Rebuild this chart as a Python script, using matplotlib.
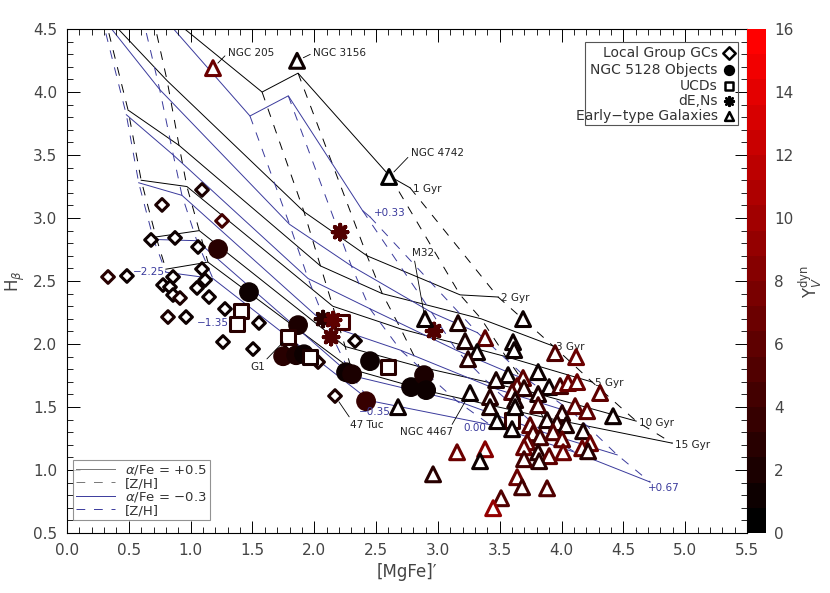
import numpy as np
import matplotlib
matplotlib.use('Agg')
import matplotlib.pyplot as plt
from matplotlib.colors import LinearSegmentedColormap, Normalize
from matplotlib.lines import Line2D
from matplotlib.patches import Rectangle
import matplotlib.cm as cm

plt.rcParams['font.family'] = ['DejaVu Sans']

# model grid: rows = ages, columns = [Z/H]
ages = ['1 Gyr', '2 Gyr', '3 Gyr', '5 Gyr', '10 Gyr', '15 Gyr']
zh = ['-2.25', '-1.35', '-0.35', '0.00', '+0.33', '+0.67']

mgfe_hi = np.array([
    [0.40, 0.665, 1.578, 1.869, 2.613, 2.775],
    [0.30, 0.81, 1.917, 2.427, 3.18, 3.487],
    [0.494, 0.906, 2.05, 2.55, 3.35, 3.932],
    [0.60, 0.97, 2.15, 2.70, 3.55, 4.248],
    [0.72, 1.07, 2.25, 2.85, 3.75, 4.604],
    [0.80, 1.14, 2.30, 2.95, 3.85, 4.896]])
hb_hi = np.array([
    [5.20, 4.73, 4.00, 4.15, 3.33, 3.24],
    [4.62, 4.09, 3.05, 2.70, 2.39, 2.373],
    [3.857, 3.577, 2.62, 2.40, 2.20, 1.984],
    [3.30, 3.25, 2.30, 2.12, 1.90, 1.698],
    [2.85, 2.90, 1.98, 1.82, 1.62, 1.388],
    [2.594, 2.65, 1.80, 1.62, 1.42, 1.213]])

mgfe_lo = np.array([
    [0.35, 0.55, 1.48, 1.79, 2.39, 2.45],
    [0.28, 0.75, 1.80, 2.30, 2.95, 3.32],
    [0.48, 0.86, 1.95, 2.45, 3.15, 3.75],
    [0.58, 0.93, 2.10, 2.70, 3.45, 4.10],
    [0.70, 1.05, 2.30, 3.15, 3.85, 4.45],
    [0.80, 1.18, 2.45, 3.42, 4.11, 4.717]])
hb_lo = np.array([
    [5.40, 4.85, 3.81, 3.97, 3.06, 3.01],
    [4.60, 4.02, 2.95, 2.62, 2.25, 2.09],
    [3.82, 3.50, 2.52, 2.28, 1.95, 1.70],
    [3.28, 3.18, 2.15, 1.95, 1.65, 1.45],
    [2.83, 2.82, 1.75, 1.55, 1.30, 1.12],
    [2.57, 2.52, 1.55, 1.36, 1.14, 0.904]])

# Local Group GCs
gc_x = [0.332, 0.485, 0.769, 1.254, 0.680, 0.874, 1.060, 1.092, 1.092, 0.858, 0.777,
        0.833, 0.858, 0.914, 1.052, 1.117, 1.149, 1.278, 0.817, 0.963, 1.262, 1.553,
        1.505, 1.804, 2.031, 2.330, 2.168]
gc_y = [2.532, 2.540, 3.104, 2.977, 2.826, 2.842, 2.770, 3.223, 2.595, 2.532, 2.468,
        2.452, 2.389, 2.365, 2.445, 2.508, 2.373, 2.278, 2.214, 2.214, 2.016, 2.167,
        1.960, 1.992, 1.857, 2.024, 1.587]
gc_m = [2.5, 1.5, 2.0, 4.5, 1.5, 1.0, 1.5, 2.0, 1.5, 1.5, 1.0, 1.0, 1.5, 2.0, 1.0, 1.5,
        1.0, 1.0, 2.0, 1.5, 1.0, 1.5, 1.0, 1.5, 2.0, 1.5, 2.0]

# NGC 5128 objects
cen_x = [1.222, 1.472, 1.869, 1.748, 1.853, 1.917, 2.257, 2.306, 2.451, 2.419, 2.783, 2.888, 2.905]
cen_y = [2.754, 2.412, 2.150, 1.903, 1.911, 1.919, 1.776, 1.760, 1.864, 1.546, 1.658, 1.753, 1.634]
cen_m = [2.5, 1.5, 2.0, 2.5, 2.0, 1.5, 1.5, 2.0, 1.0, 3.5, 1.5, 2.0, 1.0]

# UCDs
ucd_x = [1.408, 1.375, 1.788, 1.966, 2.225, 2.597, 3.600]
ucd_y = [2.262, 2.158, 2.055, 1.896, 2.174, 1.817, 1.395]
ucd_m = [3.0, 2.5, 2.5, 2.0, 4.5, 3.0, 3.5]

# dE,Ns
de_x = [2.209, 2.071, 2.152, 2.136, 2.969]
de_y = [2.888, 2.198, 2.190, 2.055, 2.103]
de_m = [5.0, 3.0, 6.0, 5.5, 5.0]

# early-type galaxies
etg_x = [1.181, 1.861, 2.605, 2.896, 3.163, 3.689, 3.220, 3.382, 3.608, 3.617, 3.317, 3.244,
         3.948, 4.118, 3.811, 3.568, 3.471, 3.689, 3.641, 3.697, 3.900, 3.989, 4.053, 4.126,
         4.312, 3.260, 3.422, 3.600, 3.625, 3.811, 3.811, 3.422, 3.625, 4.110, 4.207, 4.417,
         4.005, 3.883, 3.479, 3.600, 3.746, 3.964, 4.037, 4.175, 3.770, 3.827, 3.932, 4.005,
         3.722, 4.231, 4.167, 4.215, 3.697, 3.155, 3.382, 3.341, 3.811, 3.900, 4.013, 3.819,
         3.697, 2.961, 3.641, 3.681, 3.883, 3.511, 3.447, 2.678]
etg_y = [4.190, 4.248, 3.326, 2.198, 2.166, 2.198, 2.023, 2.047, 2.015, 1.952, 1.936, 1.880,
         1.928, 1.896, 1.777, 1.753, 1.714, 1.730, 1.666, 1.650, 1.658, 1.666, 1.690, 1.698,
         1.611, 1.611, 1.579, 1.619, 1.555, 1.603, 1.515, 1.499, 1.499, 1.507, 1.467, 1.427,
         1.451, 1.396, 1.388, 1.324, 1.356, 1.372, 1.356, 1.308, 1.292, 1.260, 1.300, 1.244,
         1.221, 1.213, 1.173, 1.149, 1.181, 1.141, 1.165, 1.070, 1.141, 1.110, 1.141, 1.070,
         1.086, 0.966, 0.943, 0.863, 0.855, 0.776, 0.697, 1.499]
etg_m = [6.5, 1.0, 0.5, 1.5, 2.0, 1.0, 2.0, 6.0, 1.5, 1.0, 1.5, 3.0,
         5.0, 7.0, 1.0, 1.5, 2.0, 6.0, 6.0, 3.0, 1.5, 4.0, 7.0, 7.0,
         6.0, 1.0, 3.0, 5.0, 2.0, 2.0, 4.0, 2.0, 1.0, 6.0, 6.0, 1.5,
         3.0, 2.0, 1.0, 1.0, 6.0, 3.0, 2.0, 2.0, 5.0, 4.0, 5.0, 6.0,
         6.0, 7.0, 7.0, 3.0, 7.0, 7.0, 8.0, 1.0, 3.0, 6.0, 7.0, 3.0,
         4.0, 3.0, 7.0, 4.0, 5.0, 5.0, 9.0, 1.5]

blue = '#3a3a9c'
cmap = LinearSegmentedColormap.from_list('kr', ['black', 'red'], N=20)
norm = Normalize(0, 16)

fig = plt.figure(figsize=(8.3, 5.93), dpi=100)
ax = fig.add_axes([0.0807, 0.1012, 0.8193, 0.8498])
cax = fig.add_axes([0.9, 0.1012, 0.0229, 0.8498])

# model grids
for mg, hb, col in [(mgfe_hi, hb_hi, 'black'), (mgfe_lo, hb_lo, blue)]:
    for i in range(len(ages)):
        ax.plot(mg[i], hb[i], '-', color=col, lw=0.7, zorder=1)
    for j in range(len(zh)):
        ax.plot(mg[:, j], hb[:, j], color=col, lw=0.7, dashes=(9, 9), zorder=1)

for i, a in enumerate(ages):
    ax.annotate(a, (mgfe_hi[i, -1], hb_hi[i, -1]), xytext=(2, -1), textcoords='offset points',
                fontsize=7.5, ha='left', va='center', color='#222222')

# metallicity labels for the low alpha grid
zlab_x = [0.79, 1.31, 2.36, 3.39, 2.48, 4.70]
zlab_y = [2.57, 2.17, 1.46, 1.33, 3.04, 0.86]
zlab_ha = ['right', 'right', 'left', 'right', 'left', 'left']
for t, x, y, h in zip(zh, zlab_x, zlab_y, zlab_ha):
    ax.text(x, y, t.replace('-', '\u2212'), color=blue, fontsize=7.5, ha=h, va='center', zorder=4)

# data points
def cols(v):
    return cmap(norm(np.array(v)))

ax.scatter(gc_x, gc_y, marker='D', s=42, facecolors='white', edgecolors=cols(gc_m), linewidths=2.2, zorder=3)
ax.scatter(cen_x, cen_y, marker='o', s=175, c=cols(cen_m), edgecolors=cols(cen_m), zorder=3)
ax.scatter(ucd_x, ucd_y, marker='s', s=110, facecolors='white', edgecolors=cols(ucd_m), linewidths=2.2, zorder=3)
ax.scatter(de_x, de_y, marker=(8, 2, 0), s=110, c=cols(de_m), linewidths=3, zorder=3)
ax.scatter(etg_x, etg_y, marker='^', s=115, facecolors='white', edgecolors=cols(etg_m), linewidths=2.2, zorder=3)

# object names, with the corner of the label the leader line starts from
names = ['NGC 205', 'NGC 3156', 'NGC 4742', 'M32', 'NGC 4467', '47 Tuc', 'G1']
obj_xy = [(1.181, 4.19), (1.861, 4.248), (2.605, 3.326), (2.896, 2.198), (3.260, 1.611), (2.168, 1.587), (1.788, 2.055)]
txt_xy = [(1.30, 4.31), (1.99, 4.31), (2.78, 3.52), (2.79, 2.72), (2.69, 1.30), (2.29, 1.36), (1.48, 1.82)]
rel = [(0, 0.5), (0, 0.5), (0, 0.3), (0.1, 0), (0.95, 0.9), (0.05, 0.9), (0.9, 0.9)]
for n, o, t, r in zip(names, obj_xy, txt_xy, rel):
    ax.annotate(n, o, xytext=t, fontsize=7.5, color='#222222', ha='left', va='center',
                arrowprops=dict(arrowstyle='-', color='black', lw=0.6, shrinkA=0, shrinkB=5, relpos=r))

ax.set_xlim(0, 5.5)
ax.set_ylim(0.5, 4.5)
ax.set_xticks(np.arange(0, 5.51, 0.5))
ax.set_yticks(np.arange(0.5, 4.51, 0.5))
ax.set_xticks(np.arange(0, 5.51, 0.1), minor=True)
ax.set_yticks(np.arange(0.5, 4.51, 0.1), minor=True)
ax.xaxis.set_major_formatter(plt.FormatStrFormatter('%.1f'))
ax.yaxis.set_major_formatter(plt.FormatStrFormatter('%.1f'))
ax.tick_params(which='both', direction='in', top=True, right=True, labelsize=11,
               labelcolor='#444444', pad=7)
ax.tick_params(which='major', length=9, width=0.7)
ax.tick_params(which='minor', length=4.5, width=0.6)
for s in ax.spines.values():
    s.set_linewidth(0.8)
ax.set_xlabel("[MgFe]\u2032", fontsize=12, color='#444444')
ax.set_ylabel(r'H$_\beta$', fontsize=12, color='#444444')

# legend of data symbols
ax.add_patch(Rectangle((0.762, 0.81), 0.225, 0.164, transform=ax.transAxes, fill=False,
                       edgecolor='#555555', lw=0.8, zorder=4))
leg_lab = ['Local Group GCs', 'NGC 5128 Objects', 'UCDs', 'dE,Ns', 'Early\u2212type Galaxies']
leg_mk = ['D', 'o', 's', (8, 2, 0), '^']
leg_y = [0.952, 0.919, 0.887, 0.857, 0.827]
for lab, mk, y in zip(leg_lab, leg_mk, leg_y):
    ax.text(0.957, y, lab, transform=ax.transAxes, ha='right', va='center', fontsize=10, color='#333333')
    filled = mk in ('o',) or mk == (8, 2, 0)
    ax.scatter([0.973], [y], transform=ax.transAxes, marker=mk, s=40,
               facecolors='black' if filled else 'white', edgecolors='black', linewidths=1.8,
               clip_on=False, zorder=5)

# legend of model lines
h = [Line2D([], [], color='#777777', lw=0.7),
     Line2D([], [], color='#777777', lw=0.7, dashes=(9, 9)),
     Line2D([], [], color=blue, lw=0.7),
     Line2D([], [], color=blue, lw=0.7, dashes=(9, 9))]
lg = ax.legend(h, [r'$\alpha$/Fe = +0.5', '[Z/H]', r'$\alpha$/Fe = $-$0.3', '[Z/H]'],
               loc='lower left', bbox_to_anchor=(0.009, 0.025), fontsize=9.5, frameon=True,
               fancybox=False, edgecolor='#777777', handlelength=2.9, labelspacing=0.0,
               borderpad=0.25, handletextpad=0.8, borderaxespad=0)
lg.get_frame().set_linewidth(0.8)
for t in lg.get_texts():
    t.set_color('#333333')

# colour bar
cb = fig.colorbar(cm.ScalarMappable(norm=norm, cmap=cmap), cax=cax, ticks=np.arange(0, 17, 2))
cb.outline.set_visible(False)
cax.tick_params(length=0, labelsize=11, labelcolor='#444444', pad=6)
cb.set_label(r'$\Upsilon_V^{\rm dyn}$', fontsize=12, color='#444444', labelpad=2)

fig.savefig('out.png', dpi=100)
